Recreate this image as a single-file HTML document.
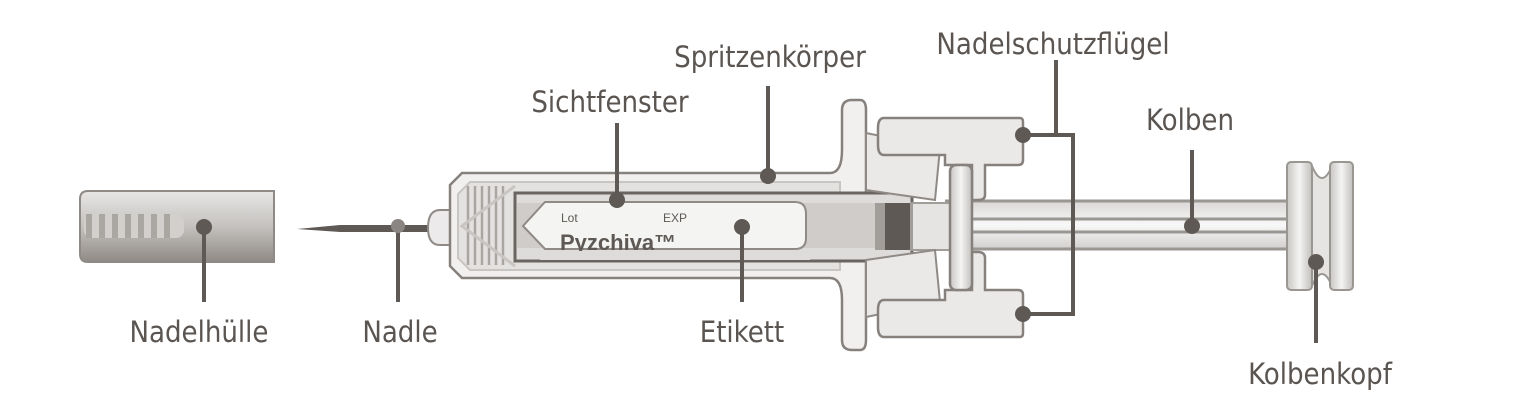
<!DOCTYPE html>
<html><head><meta charset="utf-8"><style>
html,body{margin:0;padding:0;background:#fff;width:1517px;height:415px;overflow:hidden}
text{font-family:"DejaVu Sans Condensed","Liberation Sans",sans-serif;fill:#5a5551;font-size:29px}
</style></head><body>
<svg width="1517" height="415" viewBox="0 0 1517 415" xmlns="http://www.w3.org/2000/svg">
<defs>
<linearGradient id="cap" x1="0" y1="0" x2="0" y2="1"><stop offset="0" stop-color="#e8e7e6"/><stop offset="0.5" stop-color="#c4c1be"/><stop offset="1" stop-color="#8f8a86"/></linearGradient>
<linearGradient id="rod" x1="0" y1="0" x2="0" y2="1"><stop offset="0" stop-color="#d8d6d4"/><stop offset="0.5" stop-color="#f8f8f8"/><stop offset="1" stop-color="#d0cecc"/></linearGradient>
<linearGradient id="disk" x1="0" y1="0" x2="1" y2="0"><stop offset="0" stop-color="#c9c6c3"/><stop offset="0.5" stop-color="#f4f4f4"/><stop offset="1" stop-color="#c2bfbc"/></linearGradient>
</defs>
<path d="M88,191 H274 V262 H88 Q80,262 80,254 V199 Q80,191 88,191Z" fill="url(#cap)" stroke="#8f8a86" stroke-width="2"/>
<rect x="84" y="214" width="100" height="24" rx="8" fill="#d2cfcc"/>
<g fill="#aaa6a2"><rect x="86" y="214" width="6" height="24"/><rect x="99" y="214" width="6" height="24"/><rect x="112" y="214" width="6" height="24"/><rect x="125" y="214" width="6" height="24"/><rect x="138" y="214" width="6" height="24"/><rect x="151" y="214" width="6" height="24"/><rect x="164" y="214" width="6" height="24"/></g>
<path d="M297,229 L340,225 H432 V232 H340Z" fill="#5e5955"/>
<path d="M440,210 H452 V245 H440 Q428,245 428,228 Q428,210 440,210Z" fill="#eceaea" stroke="#8f8a86" stroke-width="2"/>
<rect x="945" y="200" width="345" height="50" fill="url(#rod)"/>
<g stroke="#9a9692" stroke-width="3"><line x1="945" y1="201" x2="1290" y2="201"/><line x1="945" y1="219" x2="1290" y2="219"/><line x1="945" y1="232" x2="1290" y2="232"/><line x1="945" y1="249" x2="1290" y2="249"/></g>
<rect x="1287" y="162" width="25" height="128" rx="4" fill="url(#disk)" stroke="#9a9692" stroke-width="2"/>
<path d="M1312,166 Q1322,190 1332,166 V286 Q1322,262 1312,286Z" fill="#e6e4e2" stroke="#9a9692" stroke-width="2"/>
<rect x="1330" y="162" width="23" height="128" rx="4" fill="url(#disk)" stroke="#9a9692" stroke-width="2"/>
<path d="M462,173 H830 Q842,173 842,150 V110 Q842,100 852,100 H860 Q866,100 866,110 V340 Q866,350 860,350 H852 Q842,350 842,340 V300 Q842,278 830,278 H462 L450,266 V185Z" fill="#f1f0ef" stroke="#86817d" stroke-width="2.5"/>
<path d="M470,182 H840 V270 H470 L458,258 V194Z" fill="#e4e2e0" stroke="#c8c5c2" stroke-width="2"/>
<g stroke="#a9a5a1" stroke-width="2.5"><line x1="468" y1="186" x2="468" y2="265"/><line x1="475" y1="186" x2="475" y2="265"/><line x1="482" y1="186" x2="482" y2="265"/><line x1="489" y1="186" x2="489" y2="265"/><line x1="496" y1="186" x2="496" y2="265"/><line x1="503" y1="186" x2="503" y2="265"/></g>
<path d="M515,186 L462,226 L515,266" fill="none" stroke="#c8c5c2" stroke-width="3"/>
<rect x="515" y="193" width="397" height="68" fill="#dedcda" stroke="#6a6561" stroke-width="3"/>
<rect x="517" y="203" width="393" height="45" fill="#cfccca"/>
<path d="M880,203 H910 V250 H880 Q872,226 880,203Z" fill="#5e5955"/>
<rect x="875" y="203" width="10" height="47" fill="#a19d99"/>
<path d="M545,202 H795 Q806,202 806,214 V238 Q806,249 795,249 H545 L523,226Z" fill="#f4f4f3" stroke="#8f8a86" stroke-width="2"/>
<text x="561" y="222" style="font-size:12px;font-family:'Liberation Sans',sans-serif;fill:#5e5955">Lot</text>
<text x="663" y="222" style="font-size:12px;font-family:'Liberation Sans',sans-serif;fill:#5e5955">EXP</text>
<text x="560" y="250" style="font-size:22px;font-weight:bold;font-family:'Liberation Sans',sans-serif;fill:#5e5955">Pyzchiva™</text>
<rect x="540" y="251" width="270" height="9" fill="#dedcda"/>
<rect x="912" y="203" width="40" height="47" fill="#e6e4e2" stroke="#a19d99" stroke-width="2"/>
<path d="M866,133 L940,148 L935,200 L866,190Z" fill="#ebe9e8" stroke="#8f8a86" stroke-width="2"/>
<path d="M866,317 L940,302 L935,250 L866,260Z" fill="#ebe9e8" stroke="#8f8a86" stroke-width="2"/>
<path d="M884,118 H1020 Q1023,118 1023,122 V160 Q1023,165 1018,165 H985 V195 Q985,200 978,200 H972 V165 H945 V155 H884 Q878,155 878,145 V128 Q878,118 884,118Z" fill="#ebe9e8" stroke="#86817d" stroke-width="2.5"/>
<path d="M884,337 H1020 Q1023,337 1023,333 V295 Q1023,290 1018,290 H985 V258 Q985,252 978,252 H972 V290 H945 V300 H884 Q878,300 878,310 V327 Q878,337 884,337Z" fill="#ebe9e8" stroke="#86817d" stroke-width="2.5"/>
<rect x="950" y="165" width="22" height="125" rx="6" fill="url(#disk)" stroke="#86817d" stroke-width="2.5"/>
<g stroke="#5e5955" stroke-width="4" fill="none">
<line x1="204" y1="227" x2="204" y2="302"/>
<line x1="398" y1="226" x2="398" y2="302"/>
<line x1="617" y1="123" x2="617" y2="200"/>
<line x1="768" y1="86" x2="768" y2="176"/>
<line x1="742" y1="227" x2="742" y2="302"/>
<line x1="1056" y1="60" x2="1056" y2="135"/>
<path d="M1023,135 H1073 V314 H1023"/>
<line x1="1192" y1="150" x2="1192" y2="226"/>
<line x1="1316" y1="262" x2="1316" y2="343"/>
</g>
<g fill="#5e5955">
<circle cx="204" cy="227" r="8"/><circle cx="398" cy="226" r="7" fill="#8a8582"/>
<circle cx="617" cy="200" r="8"/><circle cx="768" cy="176" r="8"/><circle cx="742" cy="227" r="8"/>
<circle cx="1023" cy="135" r="8"/><circle cx="1023" cy="314" r="8"/>
<circle cx="1192" cy="226" r="8"/><circle cx="1316" cy="262" r="8"/>
</g>
<g text-anchor="middle">
<text x="199" y="342">Nadelhülle</text>
<text x="400" y="342">Nadle</text>
<text x="742" y="342">Etikett</text>
<text x="610" y="112">Sichtfenster</text>
<text x="770" y="67">Spritzenkörper</text>
<text x="1053" y="54">Nadelschutzflügel</text>
<text x="1190" y="130">Kolben</text>
<text x="1320" y="384">Kolbenkopf</text>
</g>
</svg>
</body></html>
